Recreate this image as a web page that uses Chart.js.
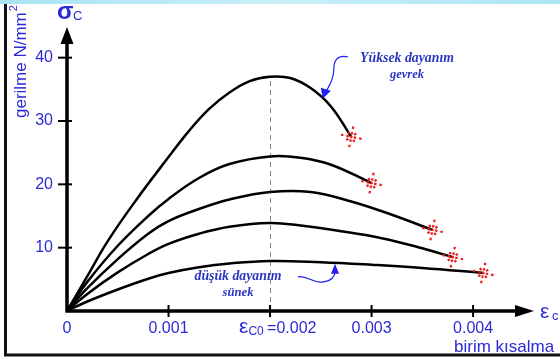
<!DOCTYPE html>
<html>
<head>
<meta charset="utf-8">
<script src="https://cdn.jsdelivr.net/npm/chart.js@4.4.0/dist/chart.umd.min.js"></script>
<style>
  html, body { margin: 0; padding: 0; background: #fff; overflow: hidden; }
  #wrap { width: 560px; height: 359px; }
</style>
</head>
<body>
<div id="wrap"><canvas id="chart" width="560" height="359"></canvas></div>
<script>
// tick values
const xTicks = [0, 0.001, 0.002, 0.003, 0.004];
const yTicks = [10, 20, 30, 40];
const peakStrain = 0.002;

// curves, strongest (brittle) to weakest (ductile)
const strain1 = [0, 0.0002, 0.0004, 0.00068, 0.001, 0.0012, 0.0014, 0.0016, 0.0018, 0.002, 0.0022, 0.0024, 0.0026, 0.0028];
const stress1 = [0, 5.5, 11, 17.5, 24.3, 28.4, 31.9, 34.5, 36.3, 37, 36.8, 35.2, 32.3, 27.5];

const strain2 = [0, 0.0002, 0.0005, 0.0008, 0.001, 0.0013, 0.0016, 0.002, 0.0023, 0.0026, 0.003];
const stress2 = [0, 4.6, 10.3, 15, 17.7, 21, 23.2, 24.4, 24.2, 23.1, 20.2];

const strain3 = [0, 0.0002, 0.0005, 0.0008, 0.001, 0.0013, 0.0016, 0.002, 0.0024, 0.0028, 0.0032, 0.0036];
const stress3 = [0, 3.6, 8.2, 12.2, 14.2, 16.1, 17.6, 18.8, 18.8, 17.3, 15.2, 12.8];

const strain4 = [0, 0.0002, 0.0005, 0.0008, 0.001, 0.0013, 0.0016, 0.002, 0.0023, 0.0027, 0.0031, 0.0035, 0.0038];
const stress4 = [0, 2.7, 6.1, 9, 10.6, 12.2, 13.3, 13.9, 13.5, 12.6, 11.5, 9.9, 8.5];

const strain5 = [0, 0.0002, 0.0005, 0.0008, 0.001, 0.0013, 0.0016, 0.002, 0.0025, 0.003, 0.0035, 0.0041];
const stress5 = [0, 1.5, 3.4, 5.1, 6, 6.9, 7.5, 7.9, 7.7, 7.3, 6.8, 6];

const curves = [
    [strain1, stress1], [strain2, stress2], [strain3, stress3], [strain4, stress4], [strain5, stress5]
];

const blue = '#2a2ad6';
const noteBlue = '#2b36c0';
const sans = '"Liberation Sans", Arial, sans-serif';

function fitText(c, text, cx, baseline, width) {
    c.font = 'italic bold 20px "Liberation Serif", serif';
    const size = 20 * width / c.measureText(text).width;
    c.font = 'italic bold ' + size.toFixed(1) + 'px "Liberation Serif", serif';
    c.textAlign = 'center';
    c.textBaseline = 'alphabetic';
    c.fillText(text, cx, baseline);
}

// dotted star where a curve breaks off
function burst(c, px, py) {
    c.save();
    c.translate(px, py);
    c.rotate(0.2);
    c.strokeStyle = '#ee1b1b';
    c.lineWidth = 2.2;
    const seg = (a, r1, r2) => {
        c.beginPath();
        c.moveTo(Math.cos(a) * r1, Math.sin(a) * r1);
        c.lineTo(Math.cos(a) * r2, Math.sin(a) * r2);
        c.stroke();
    };
    for (let k = 0; k < 4; k++) {
        const a = k * Math.PI / 2;
        seg(a, 2.5, 5);
        seg(a, 8, 10.5);
        seg(a + Math.PI / 4, 3.5, 6);
    }
    c.fillStyle = '#ee1b1b';
    c.fillRect(-1.2, -1.2, 2.4, 2.4);
    c.restore();
}

const decor = {
    id: 'decor',
    beforeDraw(chart) {
        const c = chart.ctx;
        const xs = chart.scales.x, ys = chart.scales.y;
        c.save();
        c.fillStyle = '#fff';
        c.fillRect(0, 0, chart.width, chart.height);
        const g = c.createLinearGradient(0, 0, chart.width, 0);
        g.addColorStop(0, '#a9e2f3');
        g.addColorStop(0.5, '#c8eff9');
        g.addColorStop(1, '#ade4f4');
        c.fillStyle = g;
        c.fillRect(0, 0, chart.width, 4);

        // frame
        c.strokeStyle = '#111';
        c.lineWidth = 3;
        c.beginPath();
        c.moveTo(5.5, 4);
        c.lineTo(5.5, 355);
        c.lineTo(chart.width, 355);
        c.stroke();

        // dashed line at peak strain
        const px = Math.round(xs.getPixelForValue(peakStrain)) + 0.5;
        c.setLineDash([5, 4]);
        c.strokeStyle = '#8a8a8a';
        c.lineWidth = 1;
        c.beginPath();
        c.moveTo(px, ys.getPixelForValue(0));
        c.lineTo(px, ys.getPixelForValue(Math.max(...stress1)));
        c.stroke();
        c.restore();
    },
    afterDatasetsDraw(chart) {
        const c = chart.ctx;
        const xs = chart.scales.x, ys = chart.scales.y;
        const x0 = xs.getPixelForValue(0), y0 = ys.getPixelForValue(0);
        c.save();

        // axes with arrows
        c.strokeStyle = '#000';
        c.fillStyle = '#000';
        c.lineWidth = 3.5;
        c.beginPath();
        c.moveTo(x0, y0 + 1.5);
        c.lineTo(x0, ys.top + 14);
        c.moveTo(x0 - 1.5, y0);
        c.lineTo(xs.right - 16, y0);
        c.stroke();
        c.beginPath();
        c.moveTo(x0, ys.top + 1);
        c.lineTo(x0 - 6.5, ys.top + 18);
        c.lineTo(x0 + 6.5, ys.top + 18);
        c.closePath();
        c.fill();
        c.beginPath();
        c.moveTo(xs.right, y0);
        c.lineTo(xs.right - 19, y0 - 6);
        c.lineTo(xs.right - 19, y0 + 6);
        c.closePath();
        c.fill();

        // tick marks
        c.lineWidth = 2;
        yTicks.forEach(v => {
            const py = ys.getPixelForValue(v);
            c.beginPath(); c.moveTo(x0 - 9, py); c.lineTo(x0 + 5, py); c.stroke();
        });
        xTicks.slice(1).forEach(v => {
            const px = xs.getPixelForValue(v);
            c.beginPath(); c.moveTo(px, y0 - 6); c.lineTo(px, y0 + 6); c.stroke();
        });

        // tick labels
        c.fillStyle = blue;
        c.font = '16px ' + sans;
        c.textAlign = 'right';
        c.textBaseline = 'middle';
        yTicks.forEach(v => c.fillText(String(v), x0 - 14, ys.getPixelForValue(v)));

        c.textAlign = 'center';
        c.textBaseline = 'alphabetic';
        xTicks.forEach(v => {
            if (v === peakStrain) return;
            c.fillText(v === 0 ? '0' : v.toFixed(3), xs.getPixelForValue(v), 333);
        });

        // eps_c0 = 0.002 label
        let lx = xs.getPixelForValue(peakStrain) - 31;
        c.textAlign = 'left';
        c.font = '21px ' + sans;
        c.fillText('\u03b5', lx, 333);
        lx += c.measureText('\u03b5').width;
        c.font = '12px ' + sans;
        c.fillText('C0', lx, 335);
        lx += c.measureText('C0 ').width;
        c.font = '16px ' + sans;
        c.fillText('=' + peakStrain.toFixed(3), lx, 333);

        // axis symbols
        c.font = 'bold 24px ' + sans;
        c.fillText('\u03c3', x0 - 10, 19);
        c.font = '13px ' + sans;
        c.fillText('C', x0 + 6, 20);

        c.font = '21px ' + sans;
        c.fillText('\u03b5', xs.right + 6, 318);
        c.font = '13px ' + sans;
        c.fillText('c', xs.right + 18, 320);

        // axis titles
        c.font = '17px ' + sans;
        c.fillText('birim k\u0131salma', 454, 352);

        c.save();
        c.translate(21, 118);
        c.rotate(-Math.PI / 2);
        c.textBaseline = 'middle';
        c.font = '17px ' + sans;
        c.fillText('gerilme N/mm', 0, 0);
        const w = c.measureText('gerilme N/mm').width;
        c.font = '11px ' + sans;
        c.fillText('2', w + 1, -7);
        c.restore();

        // failure marks at curve ends
        curves.forEach(([sx, sy]) => {
            const n = sx.length - 1;
            burst(c, xs.getPixelForValue(sx[n]), ys.getPixelForValue(sy[n]));
        });

        // notes
        c.fillStyle = noteBlue;
        fitText(c, 'Y\u00fcksek dayan\u0131m', 407, 62, 94);
        fitText(c, 'gevrek', 407, 78, 34);
        fitText(c, 'd\u00fc\u015f\u00fck dayan\u0131m', 238, 280, 87);
        fitText(c, 's\u00fcnek', 238, 296, 31);

        // note arrows
        c.strokeStyle = '#1f1ff0';
        c.fillStyle = '#1f1ff0';
        c.lineWidth = 1.2;
        let tx = xs.getPixelForValue(0.00252), ty = ys.getPixelForValue(33.5);
        c.beginPath();
        c.moveTo(tx + 25, ty - 42);
        c.bezierCurveTo(tx + 14, ty - 44, tx + 11, ty - 38, tx + 11, ty - 30);
        c.bezierCurveTo(tx + 11, ty - 19, tx + 6, ty - 12, tx + 3, ty - 7);
        c.stroke();
        c.beginPath();
        c.moveTo(tx, ty);
        c.lineTo(tx - 2, ty - 11);
        c.lineTo(tx + 8, ty - 8);
        c.closePath();
        c.fill();

        tx = xs.getPixelForValue(0.00264); ty = ys.getPixelForValue(7.6) + 1;
        c.beginPath();
        c.moveTo(tx - 37, ty + 13);
        c.bezierCurveTo(tx - 28, ty + 11, tx - 22, ty + 20, tx - 12, ty + 18);
        c.bezierCurveTo(tx - 3, ty + 17, tx, ty + 12, tx, ty + 8);
        c.stroke();
        c.beginPath();
        c.moveTo(tx, ty);
        c.lineTo(tx - 4, ty + 10);
        c.lineTo(tx + 4, ty + 10);
        c.closePath();
        c.fill();

        c.restore();
    }
};

new Chart(document.getElementById('chart'), {
    type: 'line',
    data: {
        datasets: curves.map(([sx, sy]) => ({
            data: sx.map((v, i) => ({ x: v, y: sy[i] })),
            borderColor: '#000',
            borderWidth: 2.5,
            pointRadius: 0,
            fill: false,
            tension: 0.4
        }))
    },
    options: {
        responsive: false,
        animation: false,
        events: [],
        layout: { padding: { left: 67, right: 26, top: 26, bottom: 48 } },
        plugins: { legend: { display: false }, tooltip: { enabled: false } },
        scales: {
            x: { type: 'linear', min: 0, max: 0.0046, display: false },
            y: { type: 'linear', min: 0, max: 45, display: false }
        }
    },
    plugins: [decor]
});
</script>
</body>
</html>
